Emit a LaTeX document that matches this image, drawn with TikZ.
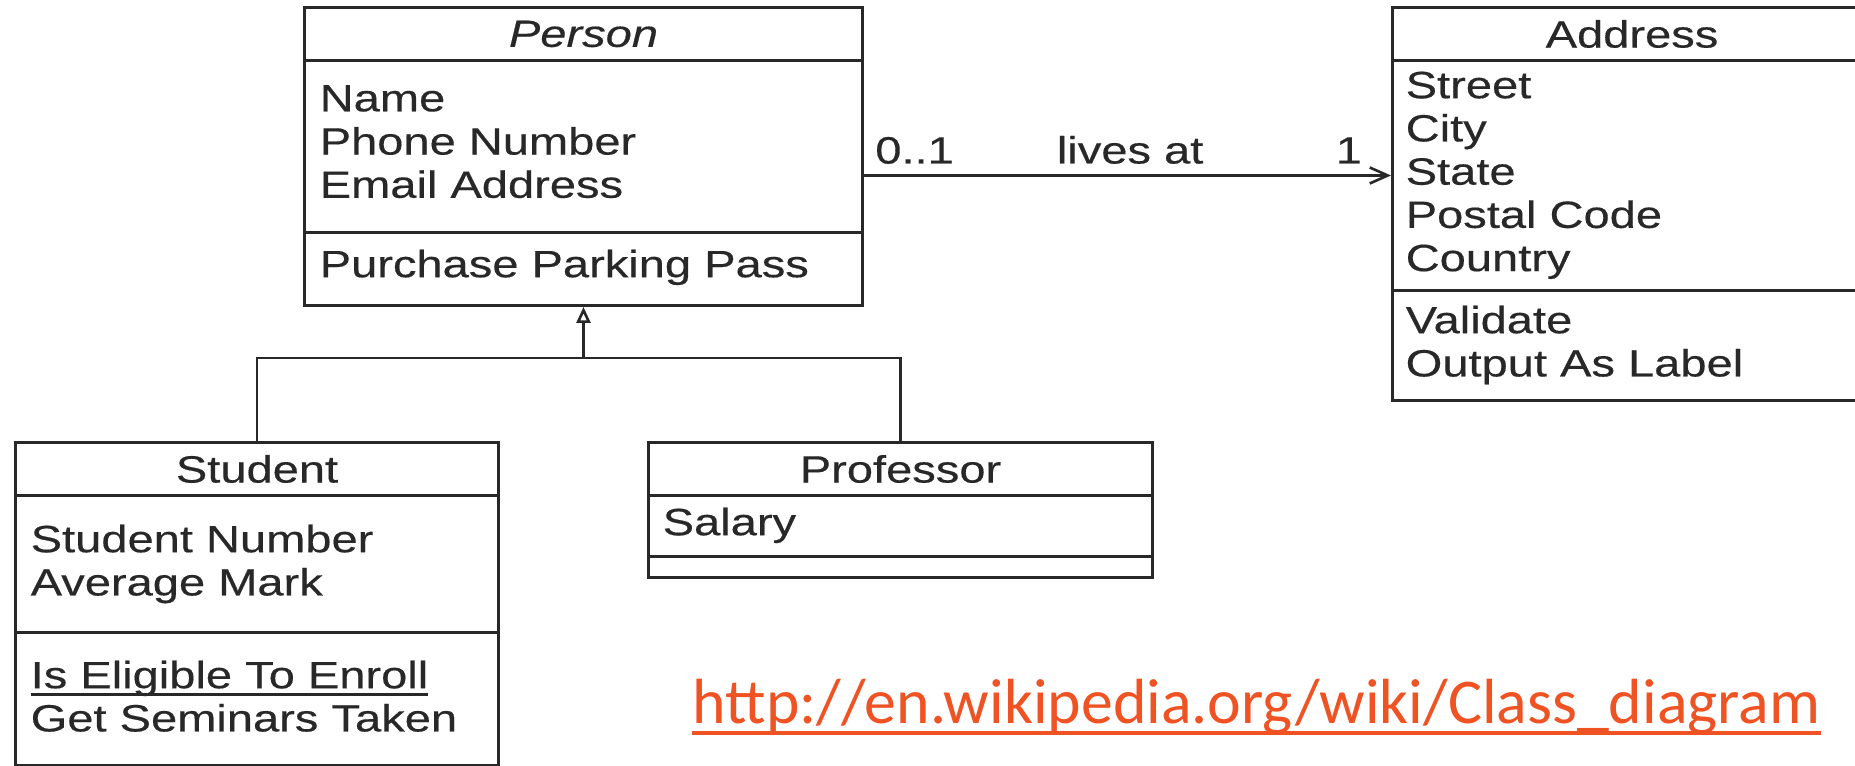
\documentclass[tikz,border=0pt]{standalone}
\usepackage{fontspec}
\setmainfont[FakeStretch=1.24, FakeBold=0.4]{Liberation Sans}
\newfontfamily\urlfont{Carlito}
\usetikzlibrary{arrows.meta}
\definecolor{umlgray}{RGB}{40,40,40}
\definecolor{urlred}{RGB}{240,83,35}
\newcommand\ulbase[1]{\setbox0\hbox{#1}\rlap{\rule[-2.1pt]{\wd0}{.6pt}}\box0}

\begin{document}
\begin{tikzpicture}[
    font=\fontsize{10.8pt}{12.3pt}\selectfont,
    box/.style={
        draw=umlgray, rectangle, line width=.85pt, anchor=north west,
        inner sep=0pt, text=umlgray
    },
    txt/.style={
        anchor=north west, align=left, inner sep=0pt, text=umlgray
    },
    tree/.style={
        draw=umlgray, line width=.75pt
    },
    assoc/.style={
        draw=umlgray, line width=.75pt, -{Straight Barb[length=.18cm, width=.16cm]}
    },
    gen/.style={
        draw=umlgray, line width=.75pt, -{Triangle[open, length=.16cm, width=.14cm]}
    },
    mult/.style={
        anchor=base, yshift=.12cm, inner sep=0pt, text=umlgray
    },
]

    \useasboundingbox (0,0) rectangle (18.55,-7.66);

    % Person
    \node[box, minimum width=5.58cm, minimum height=.53cm] (ph) at (3.03,-.06) {\textit{Person}};
    \node[box, minimum width=5.58cm, minimum height=1.72cm] (pa) at (3.03,-.59) {};
    \node[box, minimum width=5.58cm, minimum height=.73cm] (po) at (3.03,-2.31) {};
    \node[txt] (pat) at (3.19,-.845) {Name\\Phone Number\\Email Address};
    \node[txt] (pot) at (3.19,-2.49) {Purchase Parking Pass};

    % Address
    \node[box, minimum width=4.79cm, minimum height=.53cm] (ah) at (13.91,-.06) {Address};
    \node[box, minimum width=4.79cm, minimum height=2.30cm] (aa) at (13.91,-.59) {};
    \node[box, minimum width=4.79cm, minimum height=1.10cm] (ao) at (13.91,-2.89) {};
    \node[txt] (aat) at (14.05,-.71) {Street\\City\\State\\Postal Code\\Country};
    \node[txt] (aot) at (14.05,-3.05) {Validate\\Output As Label};

    % Student
    \node[box, minimum width=4.83cm, minimum height=.53cm] (sh) at (.14,-4.41) {Student};
    \node[box, minimum width=4.83cm, minimum height=1.37cm] (sa) at (.14,-4.94) {};
    \node[box, minimum width=4.83cm, minimum height=1.33cm] (so) at (.14,-6.31) {};
    \node[txt] (sat) at (.30,-5.24) {Student Number\\Average Mark};
    \node[txt] (sot) at (.30,-6.60) {\ulbase{Is Eligible To Enroll}\\Get Seminars Taken};

    % Professor
    \node[box, minimum width=5.04cm, minimum height=.53cm] (rh) at (6.47,-4.41) {Professor};
    \node[box, minimum width=5.04cm, minimum height=.61cm] (ra) at (6.47,-4.94) {};
    \node[box, minimum width=5.04cm, minimum height=.21cm] (ro) at (6.47,-5.55) {};
    \node[txt] (rat) at (6.62,-5.07) {Salary};

    \draw[assoc] (pa.east |- aa.west) --
        node[mult, pos=.096]{0..1}
        node[mult, pos=.505]{lives at}
        node[mult, pos=.92]{1} (aa.west);

    \coordinate (gj) at (0,-3.58);
    \draw[tree] (sh.north) |- (gj -| rh.north) -- (rh.north);
    \draw[gen] (po.south |- gj) -- (po.south);

    \node[anchor=base west, inner sep=0pt, text=urlred,
          font=\urlfont\fontsize{18.15pt}{20pt}\selectfont] (url) at (6.92,-7.24)
          {http://en.wikipedia.org/wiki/Class\_diagram};
    \draw[urlred, line width=1.2pt] ([yshift=-.09cm]url.base west) -- ([yshift=-.09cm]url.base east);

\end{tikzpicture}
\end{document}
